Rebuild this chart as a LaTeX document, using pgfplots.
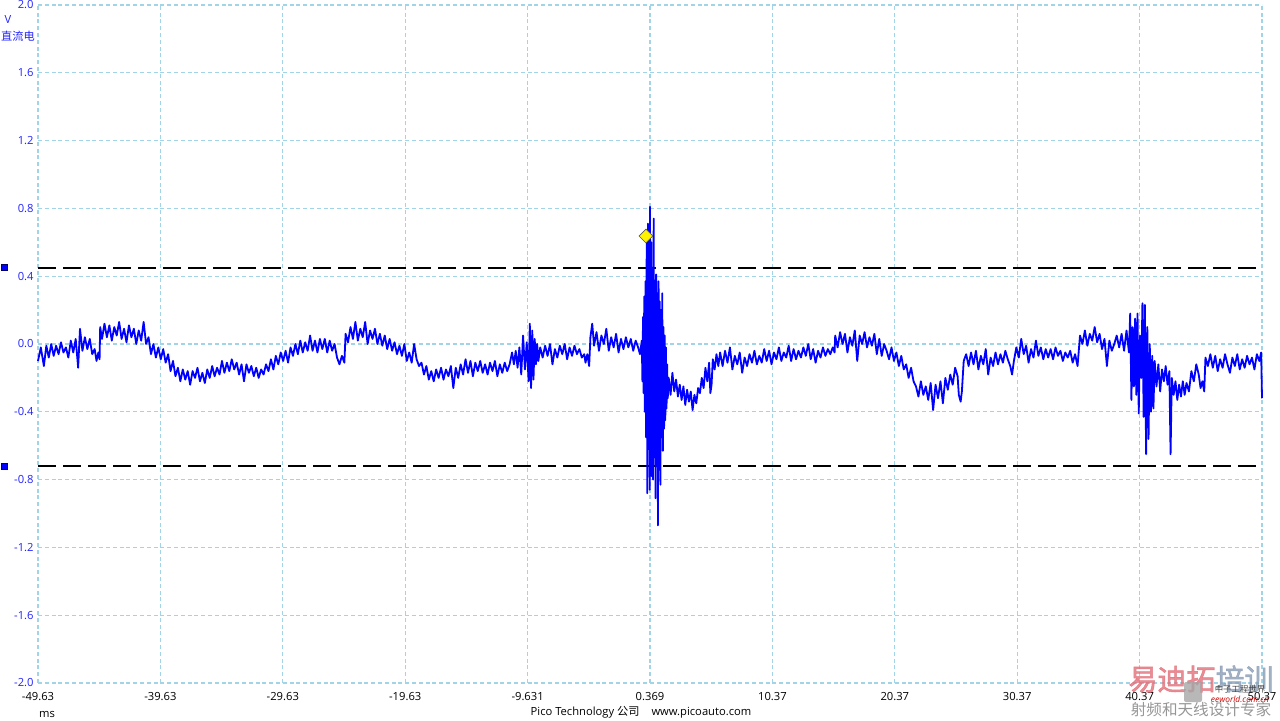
\documentclass[border=0pt]{standalone}
\usepackage{fontspec}
\setmainfont{Open Sans}
\newfontfamily\cjk{Noto Sans CJK SC}
\newfontfamily\cjkb[FakeBold=2]{Noto Sans CJK SC}
\usepackage{pgfplots}
\usepackage{pgfplotstable}
\pgfplotsset{compat=1.18}

\definecolor{gridc}{RGB}{160,212,230}
\definecolor{trace}{RGB}{0,0,255}
\definecolor{ylab}{RGB}{35,35,255}
\definecolor{wmred}{RGB}{226,112,122}
\definecolor{wmblue}{RGB}{140,158,182}
\definecolor{wmgray}{RGB}{150,150,150}

% channel A, volts vs ms
\pgfplotstableread{
t v
-49.63 -0.10
-49.40 -0.02
-49.15 -0.13
-48.95 -0.01
-48.75 -0.08
-48.55 0.00
-48.35 -0.07
-48.15 -0.01
-47.95 -0.06
-47.75 0.01
-47.55 -0.05
-47.35 -0.02
-47.15 -0.08
-46.95 0.02
-46.75 -0.05
-46.55 0.03
-46.35 -0.14
-46.20 0.09
-46.00 -0.04
-45.80 0.04
-45.60 -0.03
-45.40 0.03
-45.20 -0.06
-45.00 -0.03
-44.85 -0.10
-44.70 -0.05
-44.60 -0.09
-44.55 0.10
-44.40 0.03
-44.20 0.12
-44.00 0.04
-43.80 0.11
-43.60 0.02
-43.40 0.10
-43.20 0.05
-43.00 0.13
-42.80 0.03
-42.60 0.09
-42.40 0.01
-42.20 0.11
-42.00 0.04
-41.80 0.09
-41.60 0.00
-41.40 0.08
-41.20 0.02
-41.00 0.13
-40.80 0.00
-40.60 0.04
-40.40 -0.06
-40.20 0.00
-40.00 -0.08
-39.80 -0.02
-39.60 -0.09
-39.40 -0.03
-39.20 -0.11
-39.00 -0.06
-38.80 -0.16
-38.60 -0.10
-38.40 -0.19
-38.20 -0.14
-38.00 -0.22
-37.80 -0.15
-37.60 -0.21
-37.40 -0.16
-37.20 -0.24
-37.00 -0.16
-36.80 -0.20
-36.60 -0.14
-36.40 -0.22
-36.20 -0.17
-36.00 -0.23
-35.80 -0.15
-35.60 -0.20
-35.40 -0.13
-35.20 -0.19
-35.00 -0.14
-34.80 -0.18
-34.60 -0.10
-34.40 -0.17
-34.20 -0.11
-34.00 -0.16
-33.80 -0.09
-33.60 -0.15
-33.40 -0.11
-33.20 -0.18
-33.00 -0.12
-32.80 -0.22
-32.60 -0.12
-32.40 -0.17
-32.20 -0.13
-32.00 -0.19
-31.80 -0.14
-31.60 -0.20
-31.40 -0.15
-31.20 -0.18
-31.00 -0.12
-30.80 -0.16
-30.60 -0.09
-30.40 -0.15
-30.20 -0.07
-30.00 -0.12
-29.80 -0.05
-29.60 -0.10
-29.40 -0.04
-29.20 -0.11
-29.00 -0.02
-28.80 -0.07
-28.60 0.00
-28.40 -0.06
-28.20 0.02
-28.00 -0.05
-27.80 0.01
-27.60 -0.04
-27.40 0.05
-27.20 -0.04
-27.00 0.02
-26.80 -0.05
-26.60 0.03
-26.40 -0.03
-26.20 0.03
-26.00 -0.05
-25.80 0.02
-25.60 -0.04
-25.40 0.00
-25.20 -0.08
-25.00 -0.12
-24.80 -0.07
-24.60 -0.11
-24.50 0.06
-24.30 0.01
-24.10 0.10
-23.90 0.03
-23.70 0.13
-23.50 0.02
-23.30 0.09
-23.10 0.04
-22.90 0.13
-22.70 0.00
-22.50 0.08
-22.30 0.03
-22.10 0.09
-21.90 0.00
-21.70 0.06
-21.50 -0.01
-21.30 0.05
-21.10 -0.03
-20.90 0.03
-20.70 -0.04
-20.50 0.01
-20.30 -0.06
-20.10 -0.01
-19.90 -0.07
-19.70 0.00
-19.50 -0.10
-19.30 -0.05
-19.10 -0.11
-18.90 0.00
-18.70 -0.09
-18.50 -0.13
-18.30 -0.11
-18.10 -0.18
-17.90 -0.13
-17.70 -0.21
-17.50 -0.16
-17.30 -0.22
-17.10 -0.15
-16.90 -0.20
-16.70 -0.14
-16.50 -0.21
-16.30 -0.15
-16.10 -0.19
-15.90 -0.13
-15.70 -0.26
-15.50 -0.14
-15.30 -0.20
-15.10 -0.12
-14.90 -0.18
-14.70 -0.09
-14.50 -0.17
-14.30 -0.10
-14.10 -0.19
-13.90 -0.11
-13.70 -0.16
-13.50 -0.10
-13.30 -0.17
-13.10 -0.12
-12.90 -0.18
-12.70 -0.11
-12.50 -0.16
-12.30 -0.10
-12.10 -0.19
-11.90 -0.12
-11.70 -0.17
-11.50 -0.11
-11.30 -0.16
-11.10 -0.12
-10.90 -0.05
-10.75 -0.12
-10.60 -0.04
-10.45 -0.14
-10.30 -0.02
-10.15 -0.18
-10.00 0.05
-9.85 -0.15
-9.70 0.01
-9.55 -0.22
-9.45 0.12
-9.35 -0.26
-9.25 0.08
-9.15 -0.21
-9.05 0.03
-8.95 -0.12
-8.85 0.00
-8.75 -0.10
-8.60 -0.02
-8.40 -0.08
-8.20 -0.01
-8.00 -0.07
-7.80 0.00
-7.60 -0.12
-7.40 -0.03
-7.20 -0.08
-7.00 -0.01
-6.80 -0.06
-6.60 0.00
-6.40 -0.09
-6.20 -0.02
-6.00 -0.07
-5.80 -0.01
-5.60 -0.06
-5.40 -0.03
-5.20 -0.08
-5.00 -0.06
-4.90 -0.11
-4.75 -0.06
-4.60 -0.13
-4.50 0.04
-4.35 0.12
-4.20 -0.01
-4.00 0.07
-3.80 -0.04
-3.60 0.05
-3.40 0.00
-3.20 0.09
-3.00 -0.04
-2.80 0.04
-2.60 -0.02
-2.40 0.06
-2.20 -0.05
-2.00 0.03
-1.80 -0.03
-1.60 0.04
-1.40 -0.02
-1.20 0.03
-1.00 -0.04
-0.80 0.02
-0.60 -0.02
-0.45 -0.06
-0.30 0.02
-0.25 -0.22
-0.20 0.16
-0.15 -0.29
-0.10 0.28
-0.05 -0.40
0.00 0.37
0.05 -0.55
0.10 0.60
0.15 -0.88
0.20 0.71
0.25 -0.62
0.30 0.55
0.35 -0.86
0.37 0.81
0.42 -0.45
0.47 0.60
0.52 -0.78
0.57 0.45
0.62 -0.80
0.67 0.74
0.72 -0.55
0.77 0.35
0.82 -0.91
0.87 0.41
0.92 -0.60
0.97 0.30
1.02 -1.07
1.07 0.37
1.12 -0.70
1.17 0.25
1.22 -0.83
1.27 0.20
1.32 -0.55
1.37 0.30
1.42 -0.63
1.47 0.10
1.52 -0.50
1.57 0.05
1.62 -0.45
1.67 -0.02
1.72 -0.38
1.77 -0.12
1.82 -0.32
1.90 -0.20
2.05 -0.30
2.20 -0.17
2.35 -0.28
2.50 -0.21
2.65 -0.31
2.80 -0.24
2.95 -0.33
3.10 -0.25
3.25 -0.36
3.40 -0.27
3.55 -0.34
3.70 -0.28
3.85 -0.39
4.00 -0.30
4.15 -0.35
4.30 -0.26
4.45 -0.29
4.60 -0.20
4.75 -0.26
4.90 -0.14
5.05 -0.22
5.20 -0.11
5.30 -0.29
5.40 -0.24
5.50 -0.09
5.65 -0.15
5.80 -0.06
5.95 -0.13
6.10 -0.05
6.30 -0.13
6.50 -0.04
6.70 -0.11
6.90 -0.02
7.10 -0.15
7.30 -0.07
7.50 -0.12
7.70 -0.05
7.90 -0.17
8.10 -0.08
8.30 -0.13
8.50 -0.06
8.70 -0.11
8.90 -0.04
9.10 -0.12
9.30 -0.07
9.50 -0.11
9.70 -0.03
9.90 -0.10
10.10 -0.04
10.30 -0.12
10.50 -0.05
10.70 -0.09
10.90 -0.02
11.10 -0.10
11.30 -0.05
11.50 -0.08
11.70 -0.01
11.90 -0.10
12.10 -0.03
12.30 -0.09
12.50 -0.04
12.70 -0.08
12.90 -0.02
13.10 -0.07
13.30 0.00
13.50 -0.09
13.70 -0.03
13.90 -0.11
14.10 -0.04
14.30 -0.08
14.50 -0.02
14.70 -0.07
14.90 -0.03
15.10 -0.06
15.30 -0.02
15.45 -0.05
15.50 0.05
15.70 -0.02
15.90 0.07
16.10 0.00
16.30 0.06
16.50 -0.05
16.70 0.04
16.90 -0.01
17.10 0.08
17.30 -0.10
17.50 0.05
17.70 0.00
17.90 0.07
18.10 -0.02
18.30 0.04
18.50 -0.01
18.70 0.06
18.90 -0.06
19.10 0.03
19.30 -0.07
19.50 0.00
19.70 -0.04
19.90 -0.09
20.10 -0.02
20.30 -0.10
20.50 -0.05
20.70 -0.13
20.90 -0.07
21.10 -0.15
21.30 -0.12
21.50 -0.20
21.70 -0.14
21.90 -0.22
22.10 -0.25
22.30 -0.31
22.50 -0.22
22.70 -0.30
22.90 -0.25
23.10 -0.33
23.30 -0.23
23.50 -0.39
23.70 -0.24
23.90 -0.32
24.10 -0.22
24.30 -0.35
24.50 -0.20
24.70 -0.27
24.90 -0.18
25.10 -0.24
25.30 -0.14
25.50 -0.19
25.60 -0.30
25.75 -0.34
25.85 -0.28
26.00 -0.10
26.20 -0.06
26.40 -0.13
26.60 -0.05
26.80 -0.12
27.00 -0.04
27.20 -0.15
27.40 -0.07
27.60 -0.12
27.80 -0.03
28.00 -0.18
28.20 -0.08
28.40 -0.13
28.60 -0.05
28.80 -0.12
29.00 -0.06
29.20 -0.11
29.40 -0.04
29.60 -0.09
29.80 -0.13
29.95 -0.18
30.10 -0.10
30.30 -0.02
30.50 -0.08
30.70 0.03
30.90 -0.06
31.10 -0.01
31.30 -0.11
31.50 -0.03
31.70 -0.08
31.90 0.02
32.10 -0.07
32.30 -0.02
32.50 -0.09
32.70 -0.03
32.90 -0.08
33.10 -0.03
33.30 -0.09
33.50 -0.02
33.70 -0.07
33.90 -0.04
34.10 -0.10
34.30 -0.05
34.50 -0.08
34.70 -0.04
34.90 -0.11
35.10 -0.06
35.30 -0.13
35.50 0.05
35.70 0.00
35.90 0.08
36.10 -0.01
36.30 0.06
36.50 0.02
36.70 0.10
36.90 0.01
37.10 0.06
37.30 -0.03
37.50 0.03
37.70 -0.13
37.90 0.02
38.10 -0.04
38.30 0.00
38.50 0.05
38.70 -0.02
38.90 0.06
39.10 -0.04
39.30 0.08
39.50 -0.05
39.60 0.18
39.70 -0.33
39.80 0.10
39.90 -0.25
40.00 0.15
40.10 -0.30
40.20 0.18
40.30 -0.41
40.40 0.05
40.50 -0.20
40.60 0.24
40.70 -0.43
40.80 0.23
40.90 -0.65
41.00 0.10
41.10 -0.56
41.20 0.00
41.30 -0.40
41.40 -0.07
41.50 -0.38
41.60 -0.10
41.75 -0.25
41.90 -0.12
42.05 -0.28
42.20 -0.15
42.35 -0.22
42.50 -0.13
42.65 -0.24
42.80 -0.16
42.90 -0.65
43.00 -0.20
43.15 -0.30
43.30 -0.22
43.45 -0.33
43.60 -0.24
43.75 -0.31
43.90 -0.22
44.05 -0.30
44.20 -0.23
44.40 -0.28
44.60 -0.16
44.80 -0.22
45.00 -0.12
45.20 -0.18
45.35 -0.26
45.50 -0.22
45.65 -0.28
45.75 -0.08
45.95 -0.13
46.15 -0.06
46.35 -0.14
46.55 -0.07
46.75 -0.16
46.95 -0.09
47.15 -0.14
47.35 -0.06
47.55 -0.12
47.75 -0.17
47.95 -0.08
48.15 -0.13
48.35 -0.06
48.55 -0.15
48.75 -0.09
48.95 -0.14
49.15 -0.07
49.35 -0.12
49.55 -0.08
49.75 -0.15
49.95 -0.06
50.15 -0.10
50.30 -0.05
50.37 -0.32
}\wave

\begin{document}
\begin{tikzpicture}[x=1pt,y=1pt]
\useasboundingbox (0,0) rectangle (640,360);
\begin{axis}[
  at={(19pt,18.5pt)}, anchor=south west,
  scale only axis, width=612pt, height=339pt,
  xmin=-49.63, xmax=50.37, ymin=-2, ymax=2,
  axis line style={draw=none},
  major tick length=0pt,
  xtick={-49.63,-39.63,-29.63,-19.63,-9.63,0.37,10.37,20.37,30.37,40.37,50.37},
  xticklabels={-49.63,-39.63,-29.63,-19.63,-9.631,0.369,10.37,20.37,30.37,40.37,50.37},
  ytick={-2,-1.6,-1.2,-0.8,-0.4,0,0.4,0.8,1.2,1.6,2},
  yticklabels={-2.0,-1.6,-1.2,-0.8,-0.4,0.0,0.4,0.8,1.2,1.6,2.0},
  grid=major,
  major grid style={gridc, line width=0.55pt, dash pattern=on 2pt off 1.4pt},
  tick label style={font=\fontsize{5.6}{6.7}\selectfont},
  yticklabel style={text=ylab, anchor=east, inner sep=0pt, xshift=-2pt},
  xticklabel style={anchor=north, inner sep=0pt, yshift=-4.5pt},
  clip=false,
]
% threshold lines
\addplot[black, line width=0.8pt, dash pattern=on 9pt off 3.5pt] coordinates {(-49.63,0.45) (50.37,0.45)};
\addplot[black, line width=0.8pt, dash pattern=on 9pt off 3.5pt] coordinates {(-49.63,-0.72) (50.37,-0.72)};
% trace
\addplot[trace, line width=0.9pt, line join=round] table {\wave};
% trigger marker
\addplot[only marks, mark=square*, mark size=2.45pt,
  mark options={rotate=45, fill=yellow, draw=black!65, line width=0.35pt}] coordinates {(0.04,0.637)};
% level handles left of the axis
\addplot[only marks, mark=square*, mark size=1.5pt,
  mark options={fill=blue, draw=blue!40!black, line width=0.3pt}] coordinates {(-52.41,0.45) (-52.41,-0.72)};
\end{axis}

\node[text=ylab, font=\fontsize{5.6}{6.7}\selectfont, inner sep=0pt] at (4,350) {V};
\node[text=ylab, font=\fontsize{5.6}{6.7}\selectfont\cjk, inner sep=0pt] at (9,342) {直流电};
\node[font=\fontsize{5.6}{6.7}\selectfont, inner sep=0pt] at (23.5,3) {ms};
\node[font=\fontsize{5.6}{6.7}\selectfont, inner sep=0pt] at (320.5,4) {Pico Technology {\cjk 公司}\hspace{6pt}www.picoauto.com};

% watermark
\node[font=\fontsize{14.5}{15}\selectfont\cjkb, inner sep=0pt, text opacity=0.8] at (600.5,20.5) {\textcolor{wmred}{易迪拓}\textcolor{wmblue}{培训}};
\node[font=\fontsize{7.8}{8}\selectfont\cjk, text=wmgray, inner sep=0pt] at (600.5,5) {射频和天线设计专家};
\fill[gray!70, rounded corners=1pt, opacity=0.8] (592,9) rectangle (601,19);
\node[font=\fontsize{4.2}{5}\selectfont\cjk, text=black!75, inner sep=0pt] at (620,15.5) {中子工程世界};
\node[font=\fontsize{4.2}{5}\selectfont\itshape, text=red!80!black, inner sep=0pt] at (620,10.5) {eeworld.com.cn};
\end{tikzpicture}
\end{document}
